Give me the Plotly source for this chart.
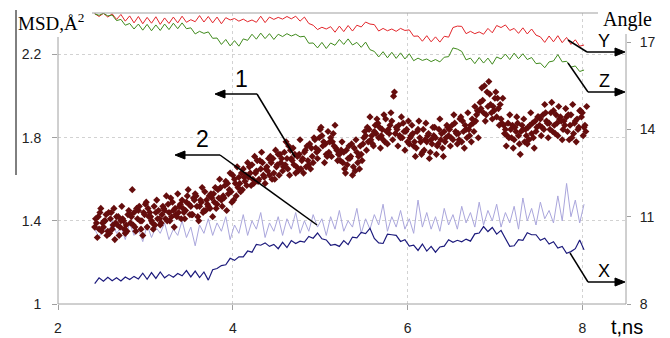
import plotly.graph_objects as go

# ---------------- data ----------------
T0_SC, DT_SC = 2.42, 0.04      # scatter time grid
T0_LN, DT_LN = 2.42, 0.05      # line time grid
SC_OFFSETS = [0.0, 0.01, 0.02, 0.03]

msd_a = [1.37, 1.42, 1.35, 1.40, 1.44, 1.36, 1.39, 1.33, 1.41, 1.38,
         1.43, 1.38, 1.46, 1.40, 1.44, 1.37, 1.42, 1.47, 1.41, 1.39, 1.45, 1.48, 1.42, 1.46, 1.44,
         1.50, 1.45, 1.48, 1.43, 1.52, 1.47, 1.44, 1.50, 1.46,
         1.53, 1.48, 1.56, 1.51, 1.58, 1.54, 1.60, 1.56, 1.63, 1.59,
         1.61, 1.67, 1.63, 1.60, 1.68, 1.65, 1.62, 1.70, 1.66,
         1.72, 1.66, 1.70, 1.74, 1.67, 1.71, 1.65, 1.73, 1.69, 1.75,
         1.79, 1.74, 1.81, 1.77, 1.73, 1.78, 1.75,
         1.72, 1.68, 1.74, 1.70, 1.66, 1.73, 1.76,
         1.80, 1.85, 1.79, 1.83, 1.87, 1.81, 1.78, 1.84, 1.88, 1.82, 1.86, 1.80, 1.83,
         1.77, 1.82, 1.75, 1.80, 1.84, 1.78, 1.73, 1.81, 1.76, 1.79, 1.83,
         1.85, 1.80, 1.87, 1.82, 1.78, 1.86, 1.84, 1.89, 1.88,
         1.93, 1.98, 1.91, 2.01, 1.95, 1.90, 1.96,
         1.86, 1.81, 1.84, 1.79, 1.87, 1.83, 1.78, 1.85, 1.82, 1.88,
         1.90, 1.85, 1.92, 1.87, 1.83, 1.91, 1.89,
         1.84, 1.90, 1.86, 1.82, 1.89, 1.93, 1.85]
msd_b = [1.41, 1.36, 1.39, 1.43, 1.34, 1.38, 1.42, 1.37, 1.40, 1.35,
         1.39, 1.44, 1.41, 1.36, 1.43, 1.46, 1.40, 1.38, 1.45, 1.43, 1.41, 1.44, 1.49, 1.43, 1.47,
         1.46, 1.49, 1.43, 1.51, 1.47, 1.50, 1.45, 1.48, 1.53,
         1.49, 1.55, 1.50, 1.57, 1.53, 1.49, 1.58, 1.61, 1.55, 1.62,
         1.66, 1.60, 1.64, 1.69, 1.62, 1.66, 1.71, 1.63, 1.67,
         1.68, 1.73, 1.65, 1.70, 1.72, 1.64, 1.69, 1.74, 1.67, 1.71,
         1.75, 1.80, 1.76, 1.72, 1.78, 1.82, 1.74,
         1.69, 1.73, 1.67, 1.71, 1.75, 1.68, 1.72,
         1.83, 1.78, 1.81, 1.86, 1.80, 1.84, 1.89, 1.82, 1.79, 1.85, 1.81, 1.87, 1.84,
         1.80, 1.76, 1.83, 1.78, 1.74, 1.81, 1.79, 1.85, 1.77, 1.82, 1.78,
         1.81, 1.86, 1.83, 1.79, 1.88, 1.84, 1.81, 1.87, 1.91,
         1.97, 1.92, 2.02, 1.96, 1.93, 1.99, 1.89,
         1.82, 1.87, 1.80, 1.85, 1.81, 1.86, 1.84, 1.79, 1.87, 1.83,
         1.86, 1.91, 1.88, 1.84, 1.93, 1.87, 1.90,
         1.88, 1.83, 1.91, 1.87, 1.84, 1.90, 1.86]
msd_c = [1.39, 1.44, 1.37, 1.33, 1.41, 1.46, 1.38, 1.40, 1.36, 1.43,
         1.42, 1.37, 1.45, 1.40, 1.48, 1.42, 1.39, 1.44, 1.41, 1.47, 1.52, 1.40, 1.45, 1.42, 1.48,
         1.44, 1.52, 1.47, 1.50, 1.42, 1.49, 1.54, 1.47, 1.51,
         1.56, 1.51, 1.47, 1.59, 1.55, 1.62, 1.52, 1.58, 1.65, 1.57,
         1.63, 1.58, 1.69, 1.65, 1.61, 1.64, 1.68, 1.60, 1.72,
         1.70, 1.67, 1.76, 1.69, 1.63, 1.72, 1.70, 1.66, 1.77, 1.68,
         1.73, 1.84, 1.78, 1.71, 1.80, 1.76, 1.69,
         1.74, 1.65, 1.70, 1.77, 1.64, 1.71, 1.69,
         1.81, 1.84, 1.77, 1.82, 1.85, 1.79, 1.83, 1.86, 2.00, 1.84, 1.80, 1.83, 1.78,
         1.81, 1.78, 1.84, 1.72, 1.79, 1.82, 1.77, 1.80, 1.84, 1.75, 1.80,
         1.84, 1.79, 1.82, 1.89, 1.83, 1.80, 1.86, 1.83, 1.93,
         1.94, 2.05, 1.95, 1.92, 1.99, 1.94, 1.87,
         1.84, 1.80, 1.86, 1.83, 1.77, 1.84, 1.81, 1.86, 1.80, 1.85,
         1.89, 1.84, 1.87, 1.92, 1.86, 1.81, 1.88,
         1.86, 1.91, 1.80, 1.88, 1.85, 1.92, 1.83]
msd_d = [1.32, 1.46, 1.40, 1.35, 1.44, 1.31, 1.42, 1.47, 1.34, 1.45,
         1.55, 1.35, 1.47, 1.33, 1.49, 1.44, 1.36, 1.50, 1.38, 1.46, 1.40, 1.51, 1.37, 1.53, 1.41,
         1.41, 1.55, 1.43, 1.53, 1.40, 1.56, 1.45, 1.52, 1.42,
         1.46, 1.60, 1.52, 1.45, 1.63, 1.50, 1.66, 1.54, 1.61, 1.68,
         1.57, 1.71, 1.59, 1.73, 1.58, 1.70, 1.60, 1.74, 1.62,
         1.64, 1.78, 1.62, 1.75, 1.66, 1.79, 1.63, 1.76, 1.65, 1.80,
         1.70, 1.85, 1.68, 1.83, 1.71, 1.86, 1.72,
         1.78, 1.63, 1.76, 1.62, 1.79, 1.65, 1.77,
         1.74, 1.90, 1.76, 1.89, 1.75, 1.91, 1.77, 1.92, 2.02, 1.76, 1.90, 1.74, 1.88,
         1.86, 1.71, 1.88, 1.73, 1.87, 1.70, 1.85, 1.72, 1.89, 1.71, 1.86,
         1.76, 1.91, 1.77, 1.90, 1.75, 1.92, 1.78, 1.95, 1.80,
         2.04, 1.88, 2.07, 1.89, 2.02, 1.86, 1.99,
         1.76, 1.91, 1.75, 1.90, 1.72, 1.89, 1.77, 1.92, 1.75, 1.90,
         1.81, 1.96, 1.80, 1.97, 1.82, 1.95, 1.79,
         1.94, 1.79, 1.96, 1.78, 1.93, 1.81, 1.95]

msd2 = [1.36, 1.32, 1.38, 1.33, 1.40, 1.34, 1.37, 1.31, 1.39, 1.33,
        1.36, 1.30, 1.38, 1.32, 1.37, 1.34, 1.39, 1.31, 1.36, 1.33,
        1.40, 1.32, 1.37, 1.28, 1.38, 1.34, 1.41, 1.33, 1.39, 1.35,
        1.42, 1.31, 1.38, 1.34, 1.43, 1.33, 1.40, 1.36, 1.44, 1.32,
        1.39, 1.35, 1.42, 1.33, 1.41, 1.36, 1.44, 1.34, 1.40, 1.35,
        1.43, 1.37, 1.41, 1.33, 1.42, 1.36, 1.45, 1.35, 1.40, 1.37,
        1.46, 1.34, 1.41, 1.36, 1.43, 1.38, 1.48, 1.35, 1.42, 1.37,
        1.45, 1.36, 1.41, 1.34, 1.50, 1.37, 1.44, 1.36, 1.42, 1.35,
        1.46, 1.38, 1.43, 1.36, 1.47, 1.39, 1.44, 1.37, 1.49, 1.38,
        1.45, 1.40, 1.48, 1.37, 1.44, 1.39, 1.47, 1.36, 1.51, 1.40,
        1.46, 1.38, 1.49, 1.41, 1.45, 1.39, 1.52, 1.40, 1.58, 1.42,
        1.50, 1.39, 1.48]

ang_x = [8.70, 8.90, 8.78, 8.92, 8.80, 8.90, 8.79, 8.93, 8.84, 8.95,
         8.86, 9.06, 8.85, 9.08, 8.88, 9.10, 8.90, 9.01, 8.92, 9.05,
         8.97, 9.15, 8.93, 9.13, 8.91, 9.10, 8.82, 9.18, 9.22, 9.32,
         9.35, 9.57, 9.50, 9.62, 9.62, 9.82, 9.78, 10.05, 10.02, 10.10,
         9.98, 10.05, 9.90, 10.12, 9.94, 10.18, 10.08, 10.16, 10.13, 10.32,
         10.26, 10.44, 10.24, 10.20, 10.02, 10.05, 9.98, 10.18, 10.04, 10.30,
         10.27, 10.46, 10.42, 10.60, 10.25, 10.10, 10.08, 10.40, 10.38, 10.36,
         10.15, 10.21, 9.99, 10.02, 9.84, 10.06, 9.82, 9.98, 9.78, 9.96,
         9.99, 10.21, 10.12, 10.19, 10.14, 10.23, 10.16, 10.41, 10.44, 10.66,
         10.49, 10.63, 10.40, 10.53, 10.25, 9.98, 10.00, 10.21, 10.19, 10.45,
         10.38, 10.38, 10.19, 10.26, 10.06, 10.14, 9.92, 9.98, 9.74, 9.80,
         9.90, 10.20, 9.86]

ang_y = [17.98, 17.88, 17.99, 17.86, 17.97, 17.78, 17.95, 17.72, 17.90, 17.66,
         17.88, 17.63, 17.85, 17.65, 17.87, 17.61, 17.83, 17.64, 17.86, 17.66,
         17.89, 17.68, 17.77, 17.70, 17.91, 17.69, 17.88, 17.66, 17.86, 17.63,
         17.84, 17.76, 17.81, 17.72, 17.79, 17.70, 17.76, 17.68, 17.89, 17.67,
         17.86, 17.78, 17.85, 17.79, 17.88, 17.80, 17.89, 17.72, 17.86, 17.64,
         17.58, 17.43, 17.51, 17.45, 17.53, 17.34, 17.55, 17.36, 17.57, 17.38,
         17.58, 17.52, 17.69, 17.62, 17.60, 17.38, 17.47, 17.39, 17.45, 17.37,
         17.47, 17.40, 17.42, 17.20, 17.21, 17.03, 17.22, 17.01, 17.18, 17.00,
         17.20, 17.17, 17.50, 17.55, 17.54, 17.29, 17.37, 17.29, 17.35, 17.27,
         17.47, 17.32, 17.57, 17.50, 17.59, 17.40, 17.47, 17.30, 17.49, 17.28,
         17.45, 17.24, 17.18, 16.99, 17.21, 17.01, 17.22, 16.98, 17.16, 16.92,
         17.08, 16.86, 16.90]

ang_z = [17.97, 17.92, 17.99, 17.90, 17.93, 17.74, 17.78, 17.58, 17.64, 17.45,
         17.62, 17.41, 17.61, 17.39, 17.59, 17.40, 17.62, 17.43, 17.65, 17.46,
         17.66, 17.46, 17.49, 17.28, 17.37, 17.30, 17.35, 17.13, 17.14, 16.92,
         17.09, 16.87, 17.05, 16.86, 17.11, 17.06, 17.27, 17.10, 17.31, 17.12,
         17.29, 17.09, 17.27, 17.19, 17.29, 17.21, 17.27, 17.18, 17.20, 16.96,
         16.97, 16.80, 16.99, 16.78, 16.97, 16.89, 17.09, 16.92, 17.11, 16.90,
         16.99, 16.82, 17.00, 16.74, 16.68, 16.49, 16.67, 16.46, 16.65, 16.44,
         16.63, 16.42, 16.60, 16.36, 16.45, 16.37, 16.42, 16.33, 16.40, 16.32,
         16.48, 16.50, 16.80, 16.76, 16.68, 16.39, 16.45, 16.26, 16.47, 16.28,
         16.45, 16.24, 16.49, 16.42, 16.59, 16.40, 16.62, 16.43, 16.60, 16.40,
         16.47, 16.26, 16.28, 16.12, 16.32, 16.35, 16.57, 16.32, 16.34, 16.14,
         16.18, 15.99, 16.04]

x_ticks = [2, 4, 6, 8]
msd_ticks = [1, 1.4, 1.8, 2.2]
msd_ticktext = ["1", "1.4", "1.8", "2.2"]
ang_ticks = [8, 11, 14, 17]

# ---------------- build ----------------
t_sc = [round(T0_SC + DT_SC * i, 3) for i in range(len(msd_a))]
t_ln = [round(T0_LN + DT_LN * i, 3) for i in range(len(msd2))]

W, H = 670, 338
ML, MR, MT, MB = 58, 44, 13, 34
PW, PH = W - ML - MR, H - MT - MB


def P(px, py):
    return (px - ML) / PW, (H - MB - py) / PH


fig = go.Figure()

SC_COL = "#650d0d"
fig.add_trace(go.Scatter(x=t_ln, y=msd2, mode="lines", yaxis="y",
                         line=dict(color="#aaa6dc", width=1)))
for off, vals in zip(SC_OFFSETS, (msd_a, msd_b, msd_c, msd_d)):
    fig.add_trace(go.Scatter(x=[t + off for t in t_sc], y=vals, mode="markers", yaxis="y",
                             marker=dict(symbol="diamond", size=5.5, color=SC_COL,
                                         line=dict(width=0))))
fig.add_trace(go.Scatter(x=t_ln, y=ang_y, mode="lines", yaxis="y2",
                         line=dict(color="#e3262b", width=1)))
fig.add_trace(go.Scatter(x=t_ln, y=ang_z, mode="lines", yaxis="y2",
                         line=dict(color="#3f8a1c", width=1)))
fig.add_trace(go.Scatter(x=t_ln, y=ang_x, mode="lines", yaxis="y2",
                         line=dict(color="#1c1a7c", width=1.2)))

GRID = "#d2d2d2"
AX = "#a0a0a0"
tickfont = dict(family="Liberation Sans, Arial", size=14, color="#222")

fig.update_layout(
    width=W, height=H, margin=dict(l=ML, r=MR, t=MT, b=MB, autoexpand=False),
    paper_bgcolor="white", plot_bgcolor="white", showlegend=False,
    xaxis=dict(range=[2, 8.5], tickvals=x_ticks, showgrid=True, gridcolor=GRID,
               griddash="dot", gridwidth=1, zeroline=False, showline=False,
               ticks="outside", ticklen=5, tickcolor=AX, tickfont=tickfont,
               ticklabelstandoff=6, automargin=False),
    yaxis=dict(range=[1, 2.4], tickvals=msd_ticks, ticktext=msd_ticktext, showgrid=True,
               gridcolor=GRID, griddash="dot", gridwidth=1, zeroline=False, showline=False,
               ticks="outside", ticklen=5, tickcolor=AX, tickfont=tickfont,
               ticklabelstandoff=8, automargin=False),
    yaxis2=dict(range=[8, 18], tickvals=ang_ticks, overlaying="y", side="right",
                showgrid=False, zeroline=False, showline=False, ticks="outside",
                ticklen=4, tickcolor=AX, tickfont=tickfont, ticklabelstandoff=6,
                automargin=False),
)

shapes = []


def seg(p1, p2, color="black", width=1.5):
    x0, y0 = P(*p1)
    x1, y1 = P(*p2)
    shapes.append(dict(type="line", xref="paper", yref="paper", x0=x0, y0=y0, x1=x1, y1=y1,
                       line=dict(color=color, width=width)))


def arrow(head, tail):
    """horizontal arrow: shaft line plus a filled triangular head"""
    d = 1 if head[0] > tail[0] else -1
    base = head[0] - d * 10
    seg(tail, (base, head[1]))
    a = P(*head)
    b = P(base, head[1] - 4)
    c = P(base, head[1] + 4)
    shapes.append(dict(type="path", xref="paper", yref="paper",
                       path=f"M {a[0]},{a[1]} L {b[0]},{b[1]} L {c[0]},{c[1]} Z",
                       fillcolor="black", line=dict(color="black", width=1)))


# frame pieces
seg((ML, H - MB), (W - MR, H - MB), AX, 1)           # bottom axis
seg((ML, 37), (ML, H - MB), AX, 1)                   # left axis
seg((W - MR, 34), (W - MR, H - MB), AX, 1)           # right axis
seg((92, MT), (598, MT), AX, 1.2)                    # top line
seg((16, 10), (16, 175), "black", 1)                 # left black bar

# leader lines
seg((257, 94), (295, 157))
seg((220, 155), (317, 225))
seg((570, 253), (588, 282))
seg((568, 40), (587, 52))
seg((568, 63), (588, 92))

arrow((215, 94), (257, 94))
arrow((175, 155), (220, 155))
arrow((625, 282), (588, 282))
arrow((625, 52), (587, 52))
arrow((625, 92), (588, 92))

ann = []


def label(pos, text, size, family="Liberation Sans, Arial", xanchor="center"):
    x, y = P(*pos)
    ann.append(dict(xref="paper", yref="paper", x=x, y=y, text=text, showarrow=False,
                    xanchor=xanchor, yanchor="middle",
                    font=dict(family=family, size=size, color="black")))


label((241, 79), "1", 23)
label((202, 139), "2", 23)
label((604, 271), "X", 18)
label((604, 41), "Y", 18)
label((604, 81), "Z", 18)

label((16, 22), "MSD,Å<sup>2</sup>", 19, "Liberation Serif, Times New Roman", "left")
label((627, 19), "Angle", 20, "Liberation Serif, Times New Roman")
label((627, 327), "t,ns", 20)

fig.update_layout(shapes=shapes, annotations=ann)
fig.write_html("out.html", config={"displayModeBar": False},
               post_script="document.body.style.margin='0';document.body.style.overflow='hidden';")
